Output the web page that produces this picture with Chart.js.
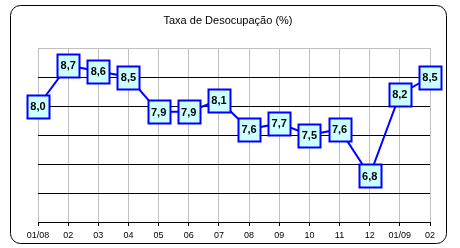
<!DOCTYPE html>
<html><head><meta charset="utf-8">
<script src="https://cdn.jsdelivr.net/npm/chart.js@4/dist/chart.umd.min.js"></script>
<style>html,body{margin:0;padding:0;background:#fff}#wrap{width:460px;height:248px;position:relative}</style>
</head><body><div id="wrap"><canvas id="c" width="460" height="248"></canvas></div>
<script>
const titleText = "Taxa de Desocupação (%)";
const categories = ["01/08","02","03","04","05","06","07","08","09","10","11","12","01/09","02"];
const values = [8.0,8.7,8.6,8.5,7.9,7.9,8.1,7.6,7.7,7.5,7.6,6.8,8.2,8.5];
const yTicks = [6.0,6.5,7.0,7.5,8.0,8.5,9.0];

const FONT = "'Liberation Sans', Arial, sans-serif";

const framePlugin = {
  id: 'frame',
  beforeDraw(chart) {
    const c = chart.ctx;
    c.save();
    c.fillStyle = '#fff';
    c.fillRect(0, 0, chart.width, chart.height);
    c.beginPath();
    c.roundRect(10.5, 5.5, 436, 238, 10);
    c.strokeStyle = '#000';
    c.lineWidth = 1;
    c.stroke();
    c.fillStyle = '#000';
    c.font = "11px " + FONT;
    c.textAlign = 'center';
    c.textBaseline = 'middle';
    c.fillText(titleText, 228, 21);
    c.restore();
  },
  afterDatasetsDraw(chart) {
    const c = chart.ctx;
    const meta = chart.getDatasetMeta(0);
    c.save();
    c.font = "bold 11px " + FONT;
    c.textAlign = 'center';
    c.textBaseline = 'middle';
    meta.data.forEach((pt, i) => {
      const w = 22, h = 23;
      const x = Math.round(pt.x - w / 2) + 0.5, y = Math.round(pt.y - h / 2) + 0.5;
      c.fillStyle = '#CCFFFF';
      c.fillRect(x, y, w, h);
      c.strokeStyle = '#0000FF';
      c.lineWidth = 2;
      c.strokeRect(x, y, w, h);
      c.fillStyle = '#000';
      c.fillText(values[i].toFixed(1).replace('.', ','), pt.x, pt.y + 1);
    });
    c.restore();
  }
};

new Chart(document.getElementById('c'), {
  type: 'line',
  data: {
    labels: categories,
    datasets: [{
      data: values,
      borderColor: '#0000FF',
      borderWidth: 2,
      tension: 0,
      pointRadius: 0,
      fill: false
    }]
  },
  options: {
    responsive: false,
    animation: false,
    devicePixelRatio: 1,
    layout: { padding: { top: 48, right: 30, left: 0, bottom: 0 } },
    plugins: { legend: { display: false }, title: { display: false }, tooltip: { enabled: false } },
    scales: {
      x: {
        offset: false,
        grid: { color: '#c0c0c0', lineWidth: 1, tickColor: '#000', tickLength: 4, drawTicks: true },
        border: { display: true, color: '#000', width: 1 },
        ticks: { color: '#000', font: { family: FONT, size: 9 }, padding: 4, maxRotation: 0, autoSkip: false },
        afterFit(s) { s.height = 26; }
      },
      y: {
        min: 6, max: 9,
        afterBuildTicks(s) { s.ticks = yTicks.map(v => ({ value: v })); },
        grid: {
          drawTicks: false,
          color: (ctx) => (ctx.tick && ctx.tick.value === 9) ? '#c0c0c0' : '#000',
          lineWidth: 1
        },
        border: { display: false },
        ticks: { display: false },
        afterFit(s) { s.width = 38; }
      }
    }
  },
  plugins: [framePlugin]
});
</script>
</body></html>
